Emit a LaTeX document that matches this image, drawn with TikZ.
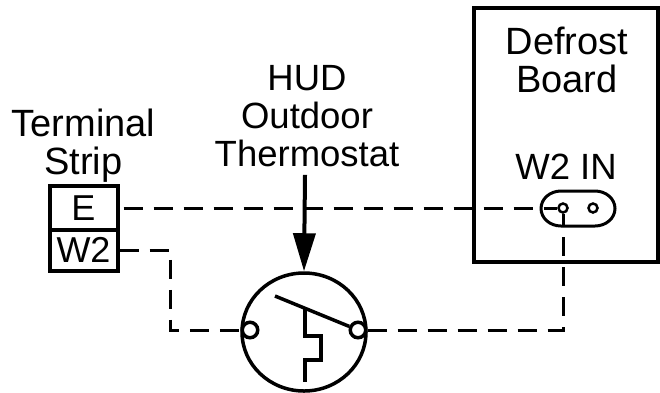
\documentclass[tikz,border=0pt]{standalone}
\usepackage{fontspec}
\setmainfont{Liberation Sans}
\usepackage{tikz}
\usetikzlibrary{arrows.meta,shapes.geometric}
\tikzset{
label/.style={inner sep=0pt,align=center,font=\fontsize{36.5}{38}\selectfont},
wide label/.style={inner sep=0pt,align=center,font=\fontsize{38}{38}\selectfont},
strip/.style={draw=black,line width=4pt,rectangle,minimum width=68pt,inner sep=0pt,font=\fontsize{36}{38}\selectfont},
board/.style={draw=black,line width=4pt,rectangle,minimum width=184pt,minimum height=254pt},
plug/.style={draw=black,line width=3pt},
pin/.style={draw=black,line width=3.5pt,circle,fill=white,inner sep=0pt},
wire/.style={line width=3pt,draw=black,dash pattern=on 19pt off 11pt},
solid line/.style={line width=3.5pt,draw=black},
}
\begin{document}
\begin{tikzpicture}[x=1pt,y=-1pt]
\useasboundingbox (0,0) rectangle (660,392);
% terminal strip
\node[wide label] (terminal) at (83.5,145.5) {Terminal\\Strip};
\node[strip,minimum height=43.5pt] (e) at (83.5,208) {E};
\node[strip,minimum height=41.5pt] (w2) at (83.5,250.25) {W2};
% defrost board
\node[board] (board) at (566,135) {};
\node[wide label] (defrost) at (567,59.5) {Defrost\\Board};
\node[label,anchor=base] (w2in) at (566,179) {W2 IN};
\draw[plug] (561,191) -- (595,191) arc[start angle=-90,end angle=90,x radius=20,y radius=17.5]
  -- (561,226) arc[start angle=90,end angle=270,x radius=20,y radius=17.5] -- cycle;
% thermostat
\node[label] (hud) at (307,116) {HUD\\Outdoor\\Thermostat};
\node[draw=black,line width=3.5pt,ellipse,minimum width=124pt,minimum height=118pt,inner sep=0pt] (thermostat) at (304,332) {};
\coordinate (leverstart) at (275,296);
\coordinate (pivot) at (305,309);
\coordinate (corner) at (563,330);
\coordinate (bend) at (170,330);
\coordinate (wbend) at (170,250.25);
\node[pin,minimum size=15.5pt] (left) at (250,330) {};
\node[pin,minimum size=15.5pt] (right) at (358,330) {};
\node[pin,minimum size=9pt,line width=2.5pt] (pina) at (563,208) {};
\node[pin,minimum size=9pt,line width=2.5pt] (pinb) at (593,208) {};
% wires
\draw[wire] (e.east) ++(4,0) -- (pina);
\draw[wire] (w2.east) -- (wbend) -- (bend) -- (left);
\draw[wire] (right) -- (corner) -- (pina);
% bimetal and lever
\draw[solid line] (leverstart) -- (right);
\draw[solid line] (pivot) -- ++(0,27) -- ++(16,0) -- ++(0,24) -- ++(-16,0) -- ++(0,22);
\draw[solid line,line width=4pt,-{Triangle[length=38pt,width=22pt]}] (hud.south -| pivot) ++(0,8) -- (thermostat.north);
\end{tikzpicture}
\end{document}
